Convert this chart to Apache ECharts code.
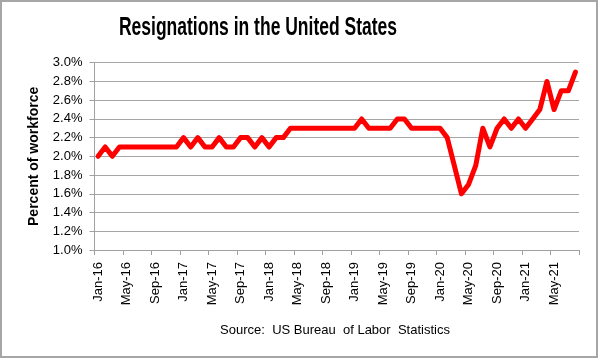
<!DOCTYPE html>
<html><head><meta charset="utf-8">
<script src="https://cdn.jsdelivr.net/npm/echarts@6/dist/echarts.min.js"></script>
<style>html,body{margin:0;padding:0;background:#fff}#c{width:600px;height:362px}</style>
</head><body><div id="c"></div>
<script>
var years = ['16','17','18','19','20','21'];
var months = ['Jan','Feb','Mar','Apr','May','Jun','Jul','Aug','Sep','Oct','Nov','Dec'];
var categories = [];
years.forEach(function(y){ months.forEach(function(m){ categories.push(m + '-' + y); }); });
categories = categories.slice(0, 68);
var rate2016 = [2.0,2.1,2.0,2.1,2.1,2.1,2.1,2.1,2.1,2.1,2.1,2.1];
var rate2017 = [2.2,2.1,2.2,2.1,2.1,2.2,2.1,2.1,2.2,2.2,2.1,2.2];
var rate2018 = [2.1,2.2,2.2,2.3,2.3,2.3,2.3,2.3,2.3,2.3,2.3,2.3];
var rate2019 = [2.3,2.4,2.3,2.3,2.3,2.3,2.4,2.4,2.3,2.3,2.3,2.3];
var rate2020 = [2.3,2.2,1.9,1.6,1.7,1.9,2.3,2.1,2.3,2.4,2.3,2.4];
var rate2021 = [2.3,2.4,2.5,2.8,2.5,2.7,2.7,2.9];
var values = [].concat(rate2016, rate2017, rate2018, rate2019, rate2020, rate2021);
var yTicks = [1.0,1.2,1.4,1.6,1.8,2.0,2.2,2.4,2.6,2.8,3.0];

var chart = echarts.init(document.getElementById('c'), null, {renderer:'canvas'});
chart.setOption({
  animation: false,
  backgroundColor: '#fff',
  graphic: [
    {type:'rect', shape:{x:1, y:1, width:596, height:356}, style:{fill:'none', stroke:'#a6a6a6', lineWidth:2}, z:-1},
    {type:'text', x: 258, y: 16, scaleX: 0.70, style:{text:'Resignations in the United States', font:'bold 25px "Liberation Sans", Arial, sans-serif', fill:'#000', align:'center', verticalAlign:'top'}},
    {type:'text', x: 335, y: 330, style:{text:'Source:  US Bureau  of Labor  Statistics', font:'13px "Liberation Sans", Arial, sans-serif', fill:'#000', align:'center', verticalAlign:'middle'}}
  ],
  grid: {left: 94.5, right: 21, top: 62.7, bottom: 112, containLabel: false},
  xAxis: {
    type: 'category',
    data: categories,
    boundaryGap: true,
    axisLine: {lineStyle:{color:'#a0a0a0', width:1}},
    axisTick: {show:true, interval: 3, length: 5, lineStyle:{color:'#a0a0a0'}},
    axisLabel: {interval: 3, rotate: 90, color:'#000', fontSize: 13, fontFamily:'"Liberation Sans", Arial, sans-serif', margin: 12},
    splitLine: {show:false}
  },
  yAxis: {
    type: 'value',
    min: 1.0, max: 3.0, interval: 0.2,
    name: 'Percent of workforce',
    nameLocation: 'middle',
    nameGap: 53,
    nameRotate: 90,
    nameTextStyle: {fontWeight:'bold', fontSize: 14, color:'#000', fontFamily:'"Liberation Sans", Arial, sans-serif'},
    axisLine: {show:true, lineStyle:{color:'#a0a0a0', width:1}},
    axisTick: {show:true, length: 5, lineStyle:{color:'#a0a0a0'}},
    axisLabel: {color:'#000', fontSize: 13, fontFamily:'"Liberation Sans", Arial, sans-serif', margin: 12,
      formatter: function(v){ return v.toFixed(1) + '%'; }},
    splitLine: {show:true, lineStyle:{color:'#a6a6a6', width:1}}
  },
  series: [{
    type: 'line',
    data: values,
    showSymbol: false,
    symbol: 'none',
    lineStyle: {color:'#ff0000', width: 5, join:'round', cap:'round'},
    itemStyle: {color:'#ff0000'}
  }]
});
</script></body></html>
